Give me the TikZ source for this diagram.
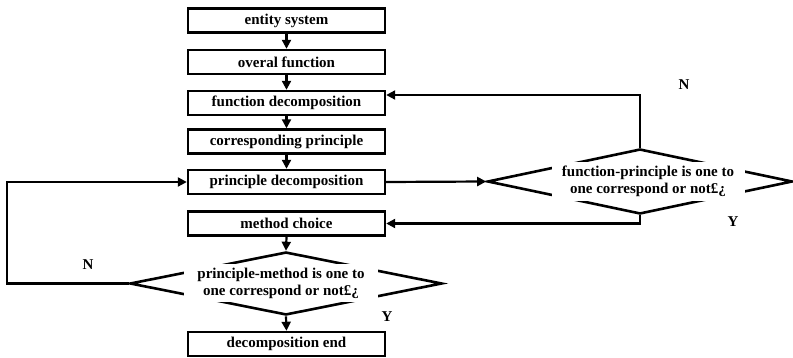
\documentclass[tikz,border=0pt]{standalone}
\usepackage{fontspec}
\setmainfont{Liberation Serif}
\usetikzlibrary{arrows.meta,shapes.geometric}
\begin{document}
\begin{tikzpicture}[x=1pt,y=-1pt,
 box/.style={draw,line width=2.4pt,minimum width=197pt,minimum height=24pt,inner sep=0pt,font=\fontsize{15}{17}\selectfont\bfseries},
 dia/.style={draw,diamond,line width=2.6pt,inner sep=0pt},
 dtext/.style={fill=white,inner sep=0pt,align=center,font=\fontsize{15}{17}\selectfont\bfseries},
 arr/.style={line width=2.2pt,-{Triangle[length=9pt,width=9pt]}},
 lbl/.style={font=\fontsize{15}{17}\selectfont\bfseries}]
\useasboundingbox (0,0) rectangle (793,358);
\node[box] (b1) at (286.5,20.5) {entity system};
\node[box] (b2) at (286.5,62) {overal function};
\node[box] (b3) at (286.5,103) {function decomposition};
\node[box] (b4) at (286.5,141.5) {corresponding principle};
\node[box] (b5) at (286.5,182) {principle decomposition};
\node[box] (b6) at (286.5,223.5) {method choice};
\node[box] (b7) at (286.5,344) {decomposition end};
\node[dia,minimum width=305pt,minimum height=65pt] (d1) at (640,181.5) {};
\node[dtext,minimum width=193pt,minimum height=39pt] (t1) at (648,181.5) {function-principle is one to\\one correspond or not£¿};
\node[dia,minimum width=312pt,minimum height=63pt] (d2) at (286,283.5) {};
\node[dtext,minimum width=194pt,minimum height=38pt] (t2) at (281,283.5) {principle-method is one to\\one correspond or not£¿};
\coordinate (lc) at (7,283.5);
\draw[arr] (b1) -- (b2);
\draw[arr] (b2) -- (b3);
\draw[arr] (b3) -- (b4);
\draw[arr] (b4) -- (b5);
\draw[arr] (b5.east) -- (d1.west);
\draw[arr] (d1.north) |- ([yshift=8pt]b3.east);
\draw[arr] (d1.south) |- (b6.east);
\draw[arr] (b6.south) -- (d2.north);
\draw[arr] (d2.south) -- (b7.north);
\draw[arr] (d2.west) -- (lc) |- (b5.west);
\node[lbl] (n1) at (684,85) {N};
\node[lbl] (y1) at (733,222) {Y};
\node[lbl] (n2) at (88,265) {N};
\node[lbl] (y2) at (387,317) {Y};
\end{tikzpicture}
\end{document}
